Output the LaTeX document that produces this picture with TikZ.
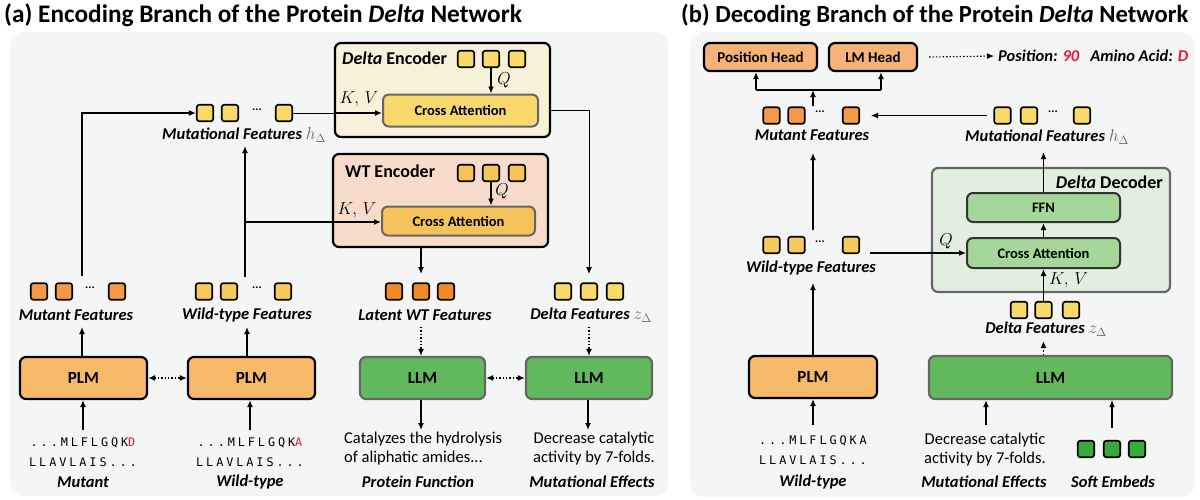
\documentclass[tikz,border=0pt]{standalone}
\usepackage{fontspec}
\setmainfont{Carlito}
\newfontfamily\seqfont[LetterSpace=25]{DejaVu Sans Mono}
\usetikzlibrary{arrows.meta}
\definecolor{bgc}{HTML}{F4F5F5}
\definecolor{deC}{HTML}{F7F1DA}
\definecolor{weC}{HTML}{F8DCCB}
\definecolor{dcaC}{HTML}{F9D96B}
\definecolor{wcaC}{HTML}{F6C35A}
\definecolor{yelC}{HTML}{F8DA6A}
\definecolor{wtyC}{HTML}{F6C95E}
\definecolor{mutC}{HTML}{F29A4A}
\definecolor{latC}{HTML}{F08A28}
\definecolor{plmC}{HTML}{F7BA6B}
\definecolor{llmC}{HTML}{62B95D}
\definecolor{decC}{HTML}{E2EEDF}
\definecolor{ffnC}{HTML}{A5D79B}
\definecolor{headC}{HTML}{F7B27A}
\definecolor{softC}{HTML}{3BA83B}
\definecolor{redC}{HTML}{E8173A}
\definecolor{grayB}{HTML}{666666}
\tikzset{
 sq/.style={draw=black, line width=1.6pt, rounded corners=2.5pt, minimum size=16.5pt, inner sep=0pt},
 box/.style={rounded corners=6pt, line width=2.2pt, inner sep=0pt, font=\fontsize{17}{19}\selectfont\bfseries},
 ibox/.style={rounded corners=6pt, line width=2pt, inner sep=0pt, draw=grayB, font=\fontsize{14.5}{16}\selectfont\bfseries},
 lab/.style={font=\fontsize{16.5}{18}\selectfont\bfseries\itshape, inner sep=0pt},
 txt/.style={font=\fontsize{16.5}{18}\selectfont, inner sep=0pt},
 seq/.style={font=\seqfont\fontsize{11.8}{13}\selectfont, inner sep=0pt},
 dts/.style={font=\fontsize{12}{12}\selectfont\bfseries, inner sep=0pt},
 arr/.style={-{Latex[length=7pt,width=6pt]}, line width=1.4pt},
 tarr/.style={-{Latex[length=7pt,width=6pt]}, line width=2.2pt},
 dotarr/.style={-{Latex[length=7pt,width=6pt]}, line width=1.4pt, dotted},
 dd/.style={{Latex[length=7pt,width=6pt]}-{Latex[length=7pt,width=6pt]}, line width=1.4pt, dotted},
 mth/.style={inner sep=0pt, font=\fontsize{16}{18}\selectfont},
 ttl/.style={anchor=west, inner sep=0pt, font=\fontsize{25.3}{27}\selectfont\bfseries},
 hdr/.style={inner sep=0pt, font=\fontsize{18}{20}\selectfont\bfseries},
}
\begin{document}
\begin{tikzpicture}[x=1pt,y=-1pt]
\useasboundingbox (0,0) rectangle (1200,499);
% backgrounds
\fill[bgc, rounded corners=14pt] (10,32) rectangle (668,496);
\fill[bgc, rounded corners=14pt] (690,32) rectangle (1195,497);
% titles
\node[ttl] (titleA) at (4,15) {(a) Encoding Branch of the Protein \textit{Delta} Network};
\node[ttl, font=\fontsize{24.6}{27}\selectfont\bfseries] (titleB) at (681,15) {(b) Decoding Branch of the Protein \textit{Delta} Network};

% ===== Panel (a) =====
% Delta encoder
\node[box, draw=black, fill=deC, minimum width=215pt, minimum height=94pt] (de) at (442.5,90) {};
\node[hdr, anchor=west] (deT) at (342,58) {\textit{Delta} Encoder};
\node[sq, fill=yelC] (de1) at (466,59) {};
\node[sq, fill=yelC] (de2) at (491,59) {};
\node[sq, fill=yelC] (de3) at (517,59) {};
\node[ibox, fill=dcaC, minimum width=155pt, minimum height=32pt] (dca) at (460.5,110.5) {Cross Attention};
\draw[arr] (de2.south) -- (de2.south |- dca.north);
\node[mth] (deQ) at (504,80) {$Q$};
\node[mth] (deKV) at (359,99) {$K,\,V$};

% WT encoder
\node[box, draw=black, fill=weC, minimum width=215pt, minimum height=93pt] (we) at (440.5,200.5) {};
\node[hdr, anchor=west] (weT) at (345,171) {WT Encoder};
\node[sq, fill=wcaC] (we1) at (466,173) {};
\node[sq, fill=wcaC] (we2) at (491,173) {};
\node[sq, fill=wcaC] (we3) at (517,173) {};
\node[ibox, fill=wcaC, minimum width=153pt, minimum height=29pt] (wca) at (458.5,221) {Cross Attention};
\draw[arr] (we2.south) -- (we2.south |- wca.north);
\node[mth] (weQ) at (502,191) {$Q$};
\node[mth] (weKV) at (357,210) {$K,\,V$};

% Mutational features (a)
\node[sq, fill=yelC] (mf1) at (205,113) {};
\node[sq, fill=yelC] (mf2) at (230,113) {};
\node[dts] (mfd) at (257,110) {...};
\node[sq, fill=yelC] (mf3) at (284,113) {};
\node[lab] (mfL) at (244,135) {Mutational Features \textcolor{grayB}{$h_{\Delta}$}};
\draw[line width=1pt] (mf3.east) -- (mf3.east -| de.west);
\draw[arr] (mf3.east -| de.west) -- (mf3.east -| dca.west);

% Mutant features (a)
\node[sq, fill=mutC] (mu1) at (39,291.5) {};
\node[sq, fill=mutC] (mu2) at (64,291.5) {};
\node[dts] (mud) at (90,288) {...};
\node[sq, fill=mutC] (mu3) at (117,291.5) {};
\node[lab] (muL) at (76,315) {Mutant Features};
\coordinate (muTop) at (82,276);
\draw[arr] (muTop) -- (82,113) -- (mf1.west);

% Wild-type features (a)
\node[sq, fill=wtyC] (wt1) at (204,291.5) {};
\node[sq, fill=wtyC] (wt2) at (229,291.5) {};
\node[dts] (wtd) at (257,288) {...};
\node[sq, fill=wtyC] (wt3) at (283,291.5) {};
\node[lab] (wtL) at (247,315) {Wild-type Features};
\coordinate (wtTop) at (245,277);
\coordinate (wtJ) at (245,222);
\draw[arr] (wtTop) -- (245,146);
\draw[arr] (wtJ) -- (wtJ -| wca.west);

% Latent WT features
\node[sq, fill=latC] (lt1) at (394,291.5) {};
\node[sq, fill=latC] (lt2) at (421,291.5) {};
\node[sq, fill=latC] (lt3) at (446,291.5) {};
\node[lab] (ltL) at (425,315) {Latent WT Features};
\coordinate (ltIn) at (421,274);
\draw[arr] (we.south -| ltIn) -- (ltIn);

% Delta features (a)
\node[sq, fill=yelC] (df1) at (563,291.5) {};
\node[sq, fill=yelC] (df2) at (589,291.5) {};
\node[sq, fill=yelC] (df3) at (615,291.5) {};
\node[lab] (dfL) at (591,315) {Delta Features \textcolor{grayB}{$z_{\Delta}$}};
\coordinate (dfIn) at (589,274);
\draw[arr, line width=1pt] (dca.east -| de.east) -- (dca.east -| dfIn) -- (dfIn);

% PLM and LLM (a)
\node[box, draw=black, fill=plmC, minimum width=127pt, minimum height=42pt] (plm1) at (83.5,378) {PLM};
\node[box, draw=black, fill=plmC, minimum width=127pt, minimum height=42pt] (plm2) at (251.5,378) {PLM};
\node[box, draw=grayB, fill=llmC, minimum width=125pt, minimum height=42pt] (llm1) at (422.5,378) {LLM};
\node[box, draw=grayB, fill=llmC, minimum width=126pt, minimum height=42pt] (llm2) at (589,378) {LLM};
\draw[dd] (plm1.east) -- (plm2.west);
\draw[dd] (llm1.east) -- (llm2.west);
\draw[arr] (plm1.north -| muTop) -- (82,327);
\draw[arr] (plm2.north -| 247,0) -- (247,327);
\draw[dotarr] (421,327) -- (llm1.north -| 421,0);
\draw[dotarr] (589,327) -- (llm2.north -| 589,0);

% inputs / outputs (a)
\coordinate (s1) at (83,430);
\coordinate (s2) at (250,430);
\draw[tarr] (s1) -- (s1 |- plm1.south);
\draw[tarr] (s2) -- (s2 |- plm2.south);
\node[seq] (seq1a) at (83,443) {...MLFLGQK\textcolor{redC}{D}};
\node[seq] (seq1b) at (83,462) {LLAVLAIS...};
\node[lab] (mutL) at (83,482) {Mutant};
\node[seq] (seq2a) at (250,443) {...MLFLGQK\textcolor{redC}{A}};
\node[seq] (seq2b) at (250,462) {LLAVLAIS...};
\node[lab] (wtyL) at (250,482) {Wild-type};
\coordinate (o1) at (421,430);
\coordinate (o2) at (588,430);
\draw[tarr] (o1 |- llm1.south) -- (o1);
\draw[arr] (o2 |- llm2.south) -- (o2);
\node[txt, anchor=west] (pf1) at (344,439) {Catalyzes the hydrolysis};
\node[txt, anchor=west] (pf2) at (344,458) {of aliphatic amides...};
\node[lab] (pfL) at (418,482) {Protein Function};
\node[txt] (me1) at (594,439) {Decrease catalytic};
\node[txt] (me2) at (594,458) {activity by 7-folds.};
\node[lab] (meL) at (592,482) {Mutational Effects};

% ===== Panel (b) =====
\node[box, draw=black, fill=headC, minimum width=113pt, minimum height=28pt, font=\fontsize{15}{17}\selectfont\bfseries] (ph) at (760.5,57) {Position Head};
\node[box, draw=black, fill=headC, minimum width=88pt, minimum height=28pt, font=\fontsize{15}{17}\selectfont\bfseries] (lmh) at (873,57) {LM Head};
\node[lab, anchor=west] (posL) at (998,56) {Position: \textcolor{redC}{90}\hspace{11pt}Amino Acid: \textcolor{redC}{D}};
\draw[dotarr, line width=1.1pt] ([xshift=11pt]lmh.east) -- ([xshift=-4pt]posL.west);

% Mutant features (b)
\node[sq, fill=mutC] (bm1) at (771.5,115.5) {};
\node[sq, fill=mutC] (bm2) at (796.5,115.5) {};
\node[dts] (bmd) at (820,112) {...};
\node[sq, fill=mutC] (bm3) at (851,115.5) {};
\node[lab] (bmL) at (812,135) {Mutant Features};
\coordinate (bj) at (813,90);
\draw[arr] (813,106) -- (bj);
\draw[line width=1.4pt] (756,90) -- (881,90);
\draw[arr] (756,90) -- (756 ,0 |- ph.south);
\draw[arr] (881,90) -- (881,0 |- lmh.south);

% Mutational features (b)
\node[sq, fill=yelC] (bh1) at (1002.5,115.5) {};
\node[sq, fill=yelC] (bh2) at (1029,115.5) {};
\node[dts] (bhd) at (1053,112) {...};
\node[sq, fill=yelC] (bh3) at (1082,115.5) {};
\node[lab] (bhL) at (1047,137) {Mutational Features \textcolor{grayB}{$h_{\Delta}$}};
\draw[arr, line width=1.1pt] ([xshift=-6pt]bh1.west) -- ([xshift=11pt]bm3.east);

% Delta decoder
\node[box, draw=grayB, fill=decC, minimum width=238pt, minimum height=124pt] (dec) at (1051,230) {};
\node[hdr, anchor=east] (decT) at (1163,182) {\textit{Delta} Decoder};
\node[ibox, draw=black!80, fill=ffnC, minimum width=153pt, minimum height=29pt] (ffn) at (1043.5,207.5) {FFN};
\node[ibox, draw=black!80, fill=ffnC, minimum width=153pt, minimum height=30pt] (bca) at (1043.5,253) {Cross Attention};
\draw[arr] (bca.north) -- (ffn.south);
\draw[arr] (ffn.north) -- (1043.5,152);
\node[mth] (bQ) at (946,241) {$Q$};
\node[mth, anchor=west] (bKV) at (1049,280) {$K,\,V$};

% Wild-type features (b)
\node[sq, fill=wtyC] (bw1) at (771.5,245) {};
\node[sq, fill=wtyC] (bw2) at (796.5,245) {};
\node[dts] (bwd) at (820,242) {...};
\node[sq, fill=wtyC] (bw3) at (851,245) {};
\node[lab] (bwL) at (811,268) {Wild-type Features};
\draw[arr, line width=1.1pt] ([xshift=10pt]bw3.east |- bca.west) -- (bca.west);
\draw[arr] (813,230) -- (813,153);

% Delta features (b)
\node[sq, fill=yelC] (bd1) at (1019,310) {};
\node[sq, fill=yelC] (bd2) at (1043.5,310) {};
\node[sq, fill=yelC] (bd3) at (1071,310) {};
\node[lab] (bdL) at (1046,329) {Delta Features \textcolor{grayB}{$z_{\Delta}$}};
\draw[arr] (bd2.north) -- (bca.south);

% PLM / LLM (b)
\node[box, draw=black, fill=plmC, minimum width=128pt, minimum height=42pt] (bplm) at (813,377) {PLM};
\node[box, draw=grayB, fill=llmC, minimum width=243pt, minimum height=43pt] (bllm) at (1050.5,377.5) {LLM};
\draw[arr, line width=1.8pt] (bplm.north) -- (813,283);
\draw[dotarr] (bllm.north -| bd2) -- (1043.5,341);

% inputs (b)
\coordinate (bs1) at (813,425);
\coordinate (bs2) at (986,425);
\coordinate (bs3) at (1112,428);
\draw[tarr] (bs1) -- (bs1 |- bplm.south);
\draw[tarr] (bs2) -- (bs2 |- bllm.south);
\draw[arr, line width=1.1pt] (bs3) -- (bs3 |- bllm.south);
\node[seq] (bseqa) at (813,441) {...MLFLGQKA};
\node[seq] (bseqb) at (813,460) {LLAVLAIS...};
\node[lab] (bwtyL) at (813,482) {Wild-type};
\node[txt] (bme1) at (985,440) {Decrease catalytic};
\node[txt] (bme2) at (985,459) {activity by 7-folds.};
\node[lab] (bmeL) at (984,482) {Mutational Effects};
\node[sq, fill=softC] (se1) at (1086,449) {};
\node[sq, fill=softC] (se2) at (1112,449) {};
\node[sq, fill=softC] (se3) at (1137,449) {};
\node[lab] (seL) at (1113,482) {Soft Embeds};
\end{tikzpicture}
\end{document}
